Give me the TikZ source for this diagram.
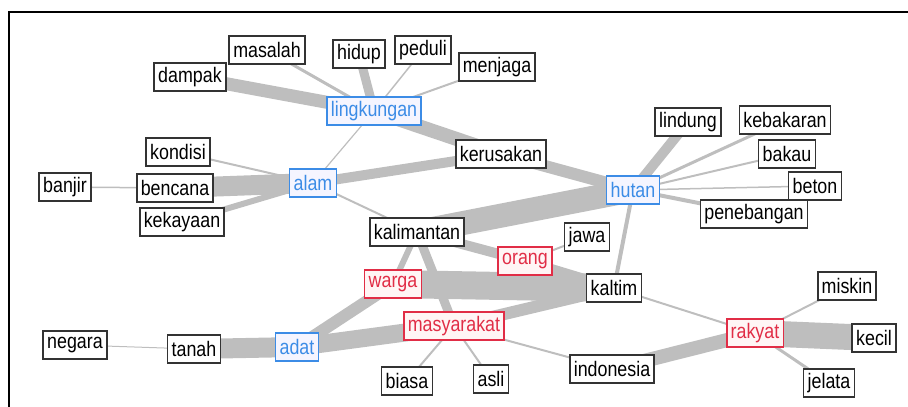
\documentclass[tikz,border=0pt]{standalone}
\usepackage{fontspec}
\setmainfont{Liberation Sans}[FakeStretch=0.85]
\usepackage{tikz}
\usetikzlibrary{positioning,backgrounds}
\usepackage{xcolor}
\definecolor{linkgray}{RGB}{190,190,190}
\definecolor{keyblue}{RGB}{60,140,230}
\definecolor{keyred}{RGB}{225,45,70}

\begin{document}
\begin{tikzpicture}[x=1pt,y=-1pt]
      \tikzstyle{word} = [rectangle, draw=black!80, line width=1.6pt, fill=white, minimum height=28pt, inner xsep=4pt, inner ysep=2pt, font=\fontsize{21}{24}\selectfont]
      \tikzstyle{bluekey} = [word, draw=keyblue, fill=blue!4, text=keyblue]
      \tikzstyle{redkey} = [word, draw=keyred, fill=red!4, text=keyred]
      \tikzstyle{link} = [draw=linkgray, line cap=butt]

      \useasboundingbox (0,0) rectangle (908,407);
      \draw[line width=2pt] (9,407) -- (9,12) -- (908,12);

      \node[word] (masalah) at (267,50) {masalah};
      \node[word] (hidup) at (359,54) {hidup};
      \node[word] (peduli) at (423,50) {peduli};
      \node[word] (menjaga) at (497,67) {menjaga};
      \node[word] (dampak) at (190,77) {dampak};
      \node[bluekey] (lingkungan) at (374,111) {lingkungan};
      \node[word] (kondisi) at (178,152) {kondisi};
      \node[word] (banjir) at (65,187) {banjir};
      \node[word] (bencana) at (175,188) {bencana};
      \node[bluekey] (alam) at (313,183) {alam};
      \node[word] (kekayaan) at (182,222) {kekayaan};
      \node[word] (kalimantan) at (417,232) {kalimantan};
      \node[word] (kerusakan) at (501,154) {kerusakan};
      \node[bluekey] (hutan) at (633,190) {hutan};
      \node[word] (lindung) at (688,122) {lindung};
      \node[word] (kebakaran) at (785,120) {kebakaran};
      \node[word] (bakau) at (787,154) {bakau};
      \node[word] (beton) at (815,186) {beton};
      \node[word] (penebangan) at (754,214) {penebangan};
      \node[word] (jawa) at (587,237) {jawa};
      \node[redkey] (orang) at (525,261) {orang};
      \node[word] (kaltim) at (614,288) {kaltim};
      \node[redkey] (warga) at (393,284) {warga};
      \node[redkey] (masyarakat) at (454,326) {masyarakat};
      \node[word] (negara) at (75,345) {negara};
      \node[word] (tanah) at (194,349) {tanah};
      \node[bluekey] (adat) at (297,347) {adat};
      \node[word] (biasa) at (407,381) {biasa};
      \node[word] (asli) at (491,379) {asli};
      \node[word] (indonesia) at (612,369) {indonesia};
      \node[redkey] (rakyat) at (755,333) {rakyat};
      \node[word] (miskin) at (847,286) {miskin};
      \node[word] (kecil) at (874,338) {kecil};
      \node[word] (jelata) at (829,383) {jelata};

      \begin{scope}[on background layer]
      \draw[link, line width=13pt] (dampak.center) -- (lingkungan.center);
      \draw[link, line width=3pt] (masalah.center) -- (lingkungan.center);
      \draw[link, line width=9pt] (hidup.center) -- (lingkungan.center);
      \draw[link, line width=1.5pt] (peduli.center) -- (lingkungan.center);
      \draw[link, line width=2pt] (menjaga.center) -- (lingkungan.center);
      \draw[link, line width=14pt] (lingkungan.center) -- (kerusakan.center);
      \draw[link, line width=1.2pt] (lingkungan.center) -- (alam.center);
      \draw[link, line width=2pt] (kondisi.center) -- (alam.center);
      \draw[link, line width=20pt] (bencana.center) -- (alam.center);
      \draw[link, line width=1.5pt] (banjir.center) -- (bencana.center);
      \draw[link, line width=6pt] (kekayaan.center) -- (alam.center);
      \draw[link, line width=10pt] (alam.center) -- (kerusakan.center);
      \draw[link, line width=2pt] (alam.center) -- (kalimantan.center);
      \draw[link, line width=12pt] (kerusakan.center) -- (hutan.center);
      \draw[link, line width=24pt] (kalimantan.center) -- (hutan.center);
      \draw[link, line width=10pt] (hutan.center) -- (lindung.center);
      \draw[link, line width=3pt] (hutan.center) -- (kebakaran.center);
      \draw[link, line width=2pt] (hutan.center) -- (bakau.center);
      \draw[link, line width=1.5pt] (hutan.center) -- (beton.center);
      \draw[link, line width=4pt] (hutan.center) -- (penebangan.center);
      \draw[link, line width=4pt] (hutan.center) -- (kaltim.center);
      \draw[link, line width=10pt] (kalimantan.center) -- (orang.center);
      \draw[link, line width=2pt] (orang.center) -- (jawa.center);
      \draw[link, line width=10pt] (orang.center) -- (kaltim.center);
      \draw[link, line width=6pt] (kalimantan.center) -- (warga.center);
      \draw[link, line width=9pt] (kalimantan.center) -- (masyarakat.center);
      \draw[link, line width=28pt] (warga.center) -- (kaltim.center);
      \draw[link, line width=12pt] (warga.center) -- (adat.center);
      \draw[link, line width=12pt] (masyarakat.center) -- (kaltim.center);
      \draw[link, line width=18pt] (adat.center) -- (masyarakat.center);
      \draw[link, line width=20pt] (tanah.center) -- (adat.center);
      \draw[link, line width=1pt] (negara.center) -- (tanah.center);
      \draw[link, line width=2pt] (masyarakat.center) -- (biasa.center);
      \draw[link, line width=2pt] (masyarakat.center) -- (asli.center);
      \draw[link, line width=2pt] (masyarakat.center) -- (indonesia.center);
      \draw[link, line width=2pt] (kaltim.center) -- (rakyat.center);
      \draw[link, line width=14pt] (indonesia.center) -- (rakyat.center);
      \draw[link, line width=2pt] (rakyat.center) -- (miskin.center);
      \draw[link, line width=26pt] (rakyat.center) -- (kecil.center);
      \draw[link, line width=3pt] (rakyat.center) -- (jelata.center);
      \end{scope}
    \end{tikzpicture}
\end{document}
